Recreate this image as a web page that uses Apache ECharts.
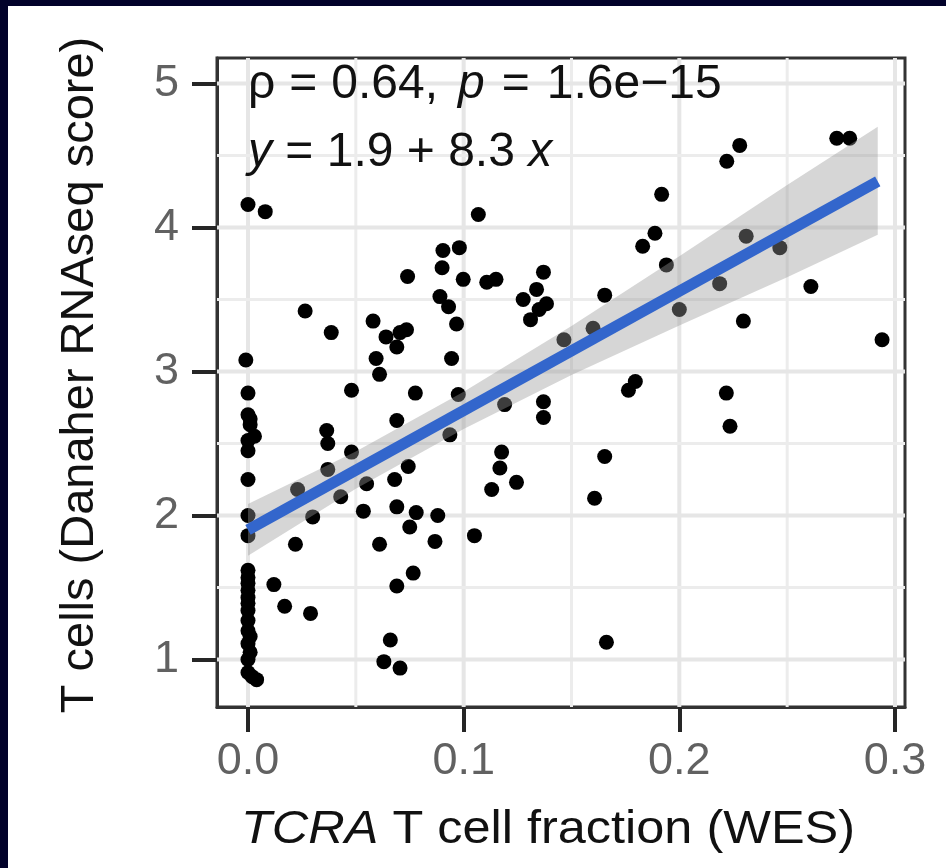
<!DOCTYPE html>
<html>
<head>
<meta charset="utf-8">
<script src="https://cdn.jsdelivr.net/npm/echarts@6/dist/echarts.min.js"></script>
<style>
  html, body { margin: 0; padding: 0; background: #02022a; width: 946px; height: 868px; overflow: hidden; }
  #chart { position: absolute; left: 8px; top: 6px; width: 938px; height: 862px; background: #ffffff; }
</style>
</head>
<body>
<div id="chart"></div>
<script>
// ---- data ----
const xTicks = [0, 0.1, 0.2, 0.3];
const yTicks = [1, 2, 3, 4, 5];
const xMinorGrid = [0.05, 0.15, 0.25];
const yMinorGrid = [1.5, 2.5, 3.5, 4.5];

const ptsX = [
  0.000, 0.008, -0.001, 0.000, 0.000, 0.001, 0.003, 0.000, 0.000, 0.000, 0.000, 0.000,
  0.000, 0.000, 0.000, 0.000, 0.000, 0.000, 0.001, 0.000, 0.004, 0.000, 0.000, 0.002,
  0.000, 0.000, 0.001, 0.000, 0.001,
  0.012, 0.017, 0.029, 0.022, 0.030, 0.023, 0.037, 0.043, 0.0365, 0.037, 0.048, 0.048,
  0.0265, 0.0386, 0.0535, 0.055, 0.061, 0.058, 0.064, 0.0705, 0.069, 0.0735, 0.0594, 0.061,
  0.0776, 0.069, 0.0944, 0.0975, 0.0936, 0.0743, 0.068, 0.069, 0.078, 0.075, 0.088, 0.0867,
  0.105, 0.0766, 0.069, 0.066, 0.063, 0.0705, 0.1176, 0.1245, 0.113, 0.119, 0.137, 0.137,
  0.074, 0.0904, 0.098, 0.090, 0.0998, 0.1107, 0.115, 0.089, 0.093, 0.0967, 0.137, 0.1276,
  0.1338, 0.131, 0.135, 0.1384, 0.1068, 0.228, 0.222, 0.273, 0.279, 0.1918, 0.1887, 0.183,
  0.194, 0.231, 0.2466, 0.1654, 0.1465, 0.160, 0.261, 0.2297, 0.294, 0.2187, 0.200, 0.1796,
  0.1764, 0.2218, 0.2235, 0.1654, 0.1607, 0.1662, 0.1168
];
const ptsY = [
  4.16, 4.11, 3.08, 2.85, 2.70, 2.63, 2.55, 2.52, 2.45, 2.25, 2.00, 1.86,
  1.62, 1.53, 1.43, 1.34, 1.20, 1.11, 1.05, 0.91, 0.86, 1.48, 1.27, 0.88,
  1.57, 1.39, 1.16, 1.00, 2.67,
  1.52, 1.37, 1.32, 1.80, 1.99, 2.18, 2.32, 2.13, 2.59, 2.50, 2.44, 2.87,
  3.42, 3.27, 2.03, 2.22, 1.80, 3.35, 3.24, 3.27, 3.17, 3.29, 3.09, 2.98,
  2.85, 2.66, 3.09, 2.84, 2.56, 2.34, 2.25, 2.06, 2.02, 1.92, 2.00, 1.82,
  1.86, 1.60, 1.51, 1.135, 0.985, 0.94, 2.44, 2.23, 2.18, 2.77, 2.79, 2.68,
  3.66, 3.84, 3.86, 3.72, 3.64, 3.62, 3.64, 3.52, 3.45, 3.33, 3.69, 3.50,
  3.57, 3.36, 3.43, 3.47, 4.09, 4.57, 4.46, 4.62, 4.62, 4.23, 3.96, 3.87,
  3.74, 3.94, 3.86, 3.53, 3.22, 3.30, 3.59, 3.35, 3.22, 3.61, 3.43, 2.93,
  2.87, 2.85, 2.62, 2.41, 2.12, 1.12, 2.33
];

// confidence band of the fit
const bandX  = [0.000, 0.050, 0.100, 0.150, 0.200, 0.250, 0.292];
const bandLo = [1.72, 2.185, 2.60, 2.975, 3.32, 3.655, 3.95];
const bandHi = [2.08, 2.445, 2.86, 3.315, 3.80, 4.295, 4.70];
// fitted line y = 1.9 + 8.3 x (end points)
const fitX = [0.000, 0.292];
const fitY = [1.90, 4.32];

const statText1 = ['ρ', '=', '0.64,', 'p', '=', '1.6e−15'];
const statText2 = ['y', ' = 1.9 + 8.3 ', 'x'];
const xTitle = ['TCRA', ' T cell fraction (WES)'];
const yTitle = 'T cells (Danaher RNAseq score)';

// ---- chart ----
const FONT = '"Liberation Sans", Arial, Helvetica, sans-serif';
const chart = echarts.init(document.getElementById('chart'), null, { renderer: 'canvas' });

const vGrid = xTicks.map(v => [v, yTicks[0], 1]).concat(xMinorGrid.map(v => [v, yTicks[0], 0]));
const hGrid = yTicks.map(v => [xTicks[0], v, 1]).concat(yMinorGrid.map(v => [xTicks[0], v, 0]));

const GRID_MAJOR = { stroke: '#e6e6e6', lineWidth: 4 };
const GRID_MINOR = { stroke: '#ececec', lineWidth: 3 };

const axisLineStyle = { show: true, onZero: false, lineStyle: { color: '#333333', width: 3 } };
const tickStyle = { show: true, length: 25, lineStyle: { color: '#262626', width: 4 } };

const txt = (size, italic) => ({ fontSize: size, fontFamily: FONT, fontStyle: italic ? 'italic' : 'normal', fill: '#111111' });

const option = {
  animation: false,
  backgroundColor: '#ffffff',
  grid: {
    left: 209, top: 52, width: 688, height: 649,
    show: true, borderColor: '#333333', borderWidth: 3, backgroundColor: '#ffffff',
    containLabel: false
  },
  xAxis: {
    type: 'value', min: -0.01437, max: 0.30464,
    axisLine: axisLineStyle,
    splitLine: { show: false },
    axisTick: Object.assign({ customValues: xTicks }, tickStyle),
    axisLabel: {
      customValues: xTicks, margin: 32, color: '#616161', fontSize: 45, fontFamily: FONT,
      formatter: v => v.toFixed(1)
    }
  },
  yAxis: {
    type: 'value', min: 0.670, max: 5.177,
    axisLine: axisLineStyle,
    splitLine: { show: false },
    axisTick: Object.assign({ customValues: yTicks }, tickStyle),
    axisLabel: {
      customValues: yTicks, margin: 38, color: '#616161', fontSize: 45, fontFamily: FONT,
      formatter: v => String(Math.round(v))
    }
  },
  series: [
    {
      type: 'custom', z: 1, silent: true, data: vGrid,
      renderItem: function (params, api) {
        const cs = params.coordSys;
        const p = api.coord([api.value(0), api.value(1)]);
        return { type: 'line', shape: { x1: p[0], y1: cs.y, x2: p[0], y2: cs.y + cs.height },
                 style: api.value(2) ? GRID_MAJOR : GRID_MINOR };
      }
    },
    {
      type: 'custom', z: 1, silent: true, data: hGrid,
      renderItem: function (params, api) {
        const cs = params.coordSys;
        const p = api.coord([api.value(0), api.value(1)]);
        return { type: 'line', shape: { x1: cs.x, y1: p[1], x2: cs.x + cs.width, y2: p[1] },
                 style: api.value(2) ? GRID_MAJOR : GRID_MINOR };
      }
    },
    {
      type: 'scatter', z: 2, symbol: 'circle', symbolSize: 15,
      itemStyle: { color: '#000000', opacity: 1 },
      data: ptsX.map((x, i) => [x, ptsY[i]])
    },
    {
      type: 'custom', z: 3, silent: true,
      data: bandX.map((x, i) => [x, bandLo[i], bandHi[i]]),
      renderItem: function (params, api) {
        if (params.dataIndex !== 0) return null;
        const pts = [];
        for (let i = 0; i < bandX.length; i++) pts.push(api.coord([bandX[i], bandHi[i]]));
        for (let i = bandX.length - 1; i >= 0; i--) pts.push(api.coord([bandX[i], bandLo[i]]));
        return { type: 'polygon', shape: { points: pts }, style: { fill: 'rgba(153,153,153,0.4)' } };
      }
    },
    {
      type: 'line', z: 4, silent: true, symbol: 'none',
      lineStyle: { color: '#3366cc', width: 11 },
      data: fitX.map((x, i) => [x, fitY[i]])
    }
  ],
  graphic: [
    {
      type: 'text', x: 240, y: 55, z: 10,
      style: {
        text: '{n|' + statText1[0] + '}{s| }{n|' + statText1[1] + '}{s| }{n|' + statText1[2] +
              '}{c| }{i|' + statText1[3] + '}{t| }{n|' + statText1[4] + '}{t| }{n|' + statText1[5] + '}',
        rich: {
          n: txt(48, false), i: txt(48, true),
          s: Object.assign(txt(48, false), { width: 14 }),
          c: Object.assign(txt(48, false), { width: 20 }),
          t: Object.assign(txt(48, false), { width: 17 })
        },
        verticalAlign: 'top', align: 'left'
      }
    },
    {
      type: 'text', x: 240, y: 123, z: 10,
      style: {
        text: '{i|' + statText2[0] + '}{n|' + statText2[1] + '}{i|' + statText2[2] + '}',
        rich: { n: txt(48, false), i: txt(48, true) },
        verticalAlign: 'top', align: 'left'
      }
    },
    {
      type: 'text', x: 540, y: 824, z: 10, scaleX: 1.097,
      style: {
        text: '{i|' + xTitle[0] + '}{n|' + xTitle[1] + '}',
        rich: { n: txt(46, false), i: txt(46, true) },
        align: 'center', verticalAlign: 'middle'
      }
    },
    {
      type: 'text', x: 72, y: 369, rotation: Math.PI / 2, z: 10,
      style: {
        text: yTitle, fontSize: 47, fontFamily: FONT, fill: '#111111',
        align: 'center', verticalAlign: 'middle'
      }
    }
  ]
};
chart.setOption(option);
</script>
</body>
</html>
